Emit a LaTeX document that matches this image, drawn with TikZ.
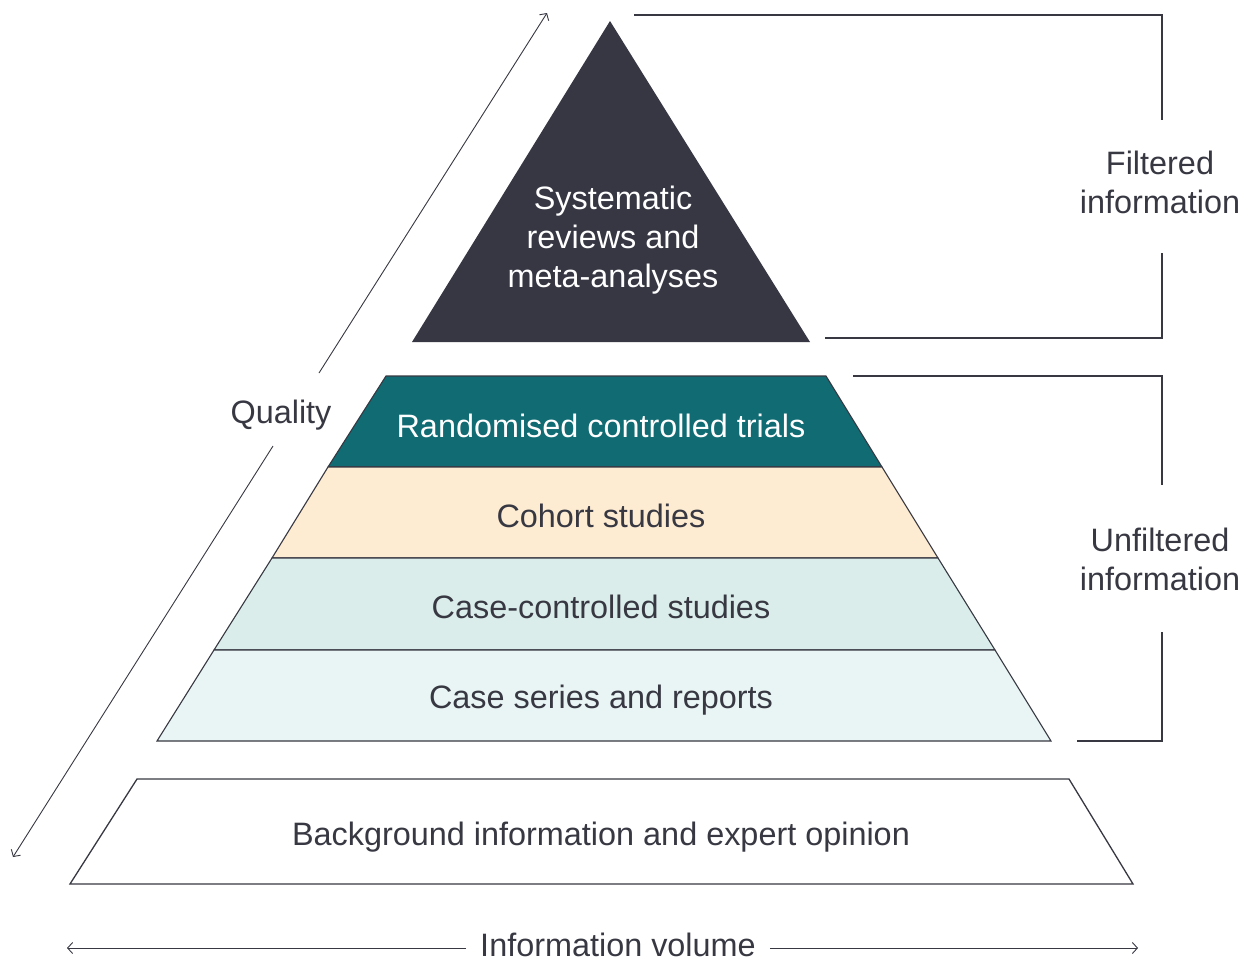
\documentclass[tikz,border=0pt]{standalone}
\usepackage{fontspec}
\setmainfont{Liberation Sans}
\usetikzlibrary{arrows.meta}
\definecolor{ink}{HTML}{373842}
\definecolor{apexfill}{HTML}{363743}
\definecolor{rctfill}{HTML}{106B73}
\definecolor{cohortfill}{HTML}{FEECD2}
\definecolor{ccfill}{HTML}{DAEDEA}
\definecolor{csfill}{HTML}{E9F5F5}
\begin{document}
\begin{tikzpicture}[x=1pt,y=-1pt,
  txt/.style={font=\fontsize{32.4}{39}\selectfont, text=ink, inner sep=0pt, anchor=base, align=center},
  wtxt/.style={txt, text=white},
  layer/.style={draw=ink, line width=1.1pt, line join=miter},
  bracket/.style={draw=ink, line width=1.2pt},
  axis/.style={draw=ink, line width=0.9pt, -{Straight Barb[length=5pt,width=11pt]}}]
\useasboundingbox (0,0) rectangle (1247,959);

% pyramid layers
\fill[apexfill] (610,21) -- (810,342) -- (412,342) -- cycle;
\draw[layer, fill=rctfill] (386,376) -- (826,376) -- (882,467) -- (328,467) -- cycle;
\draw[layer, fill=cohortfill] (328,467) -- (882,467) -- (938,558) -- (272,558) -- cycle;
\draw[layer, fill=ccfill] (272,558) -- (938,558) -- (995,650) -- (214,650) -- cycle;
\draw[layer, fill=csfill] (214,650) -- (995,650) -- (1051,741) -- (157,741) -- cycle;
\draw[layer, line width=1.3pt, fill=white] (137,779) -- (1069,779) -- (1133,884) -- (70,884) -- cycle;

% labels (multi-line nodes are placed by the baseline of their last line)
\node[wtxt] (sr) at (613,287) {Systematic\\reviews and\\meta-analyses};
\node[wtxt] (rct) at (601,437) {Randomised controlled trials};
\node[txt] (coh) at (601,527) {Cohort studies};
\node[txt] (cc) at (601,618) {Case-controlled studies};
\node[txt] (cs) at (601,708) {Case series and reports};
\node[txt] (bg) at (601,845) {Background information and expert opinion};
\node[txt] (qual) at (281,423) {Quality};
\node[txt] (filt) at (1160,213) {Filtered\\information};
\node[txt] (unfilt) at (1160,590) {Unfiltered\\information};
\node[txt, inner xsep=14pt] (vol) at (618,956) {Information volume};

% quality axis
\coordinate (qlo) at (13,857);
\coordinate (qhi) at (547,13);
\coordinate (qa) at (273,446);
\coordinate (qb) at (319,373);
\draw[axis] (qb) -- (qhi);
\draw[axis] (qa) -- (qlo);

% volume axis
\coordinate (vl) at (67,948);
\coordinate (vr) at (1138,948);
\draw[axis] (vol.west |- vl) -- (vl);
\draw[axis] (vol.east |- vr) -- (vr);

% filtered bracket
\coordinate (f1) at (634,15);
\coordinate (f2) at (1162,120);
\coordinate (f3) at (1162,253);
\coordinate (f4) at (825,338);
\draw[bracket] (f1) -| (f2);
\draw[bracket] (f3) |- (f4);

% unfiltered bracket
\coordinate (u1) at (853,376);
\coordinate (u2) at (1162,485);
\coordinate (u3) at (1162,632);
\coordinate (u4) at (1077,741);
\draw[bracket] (u1) -| (u2);
\draw[bracket] (u3) |- (u4);
\end{tikzpicture}
\end{document}
